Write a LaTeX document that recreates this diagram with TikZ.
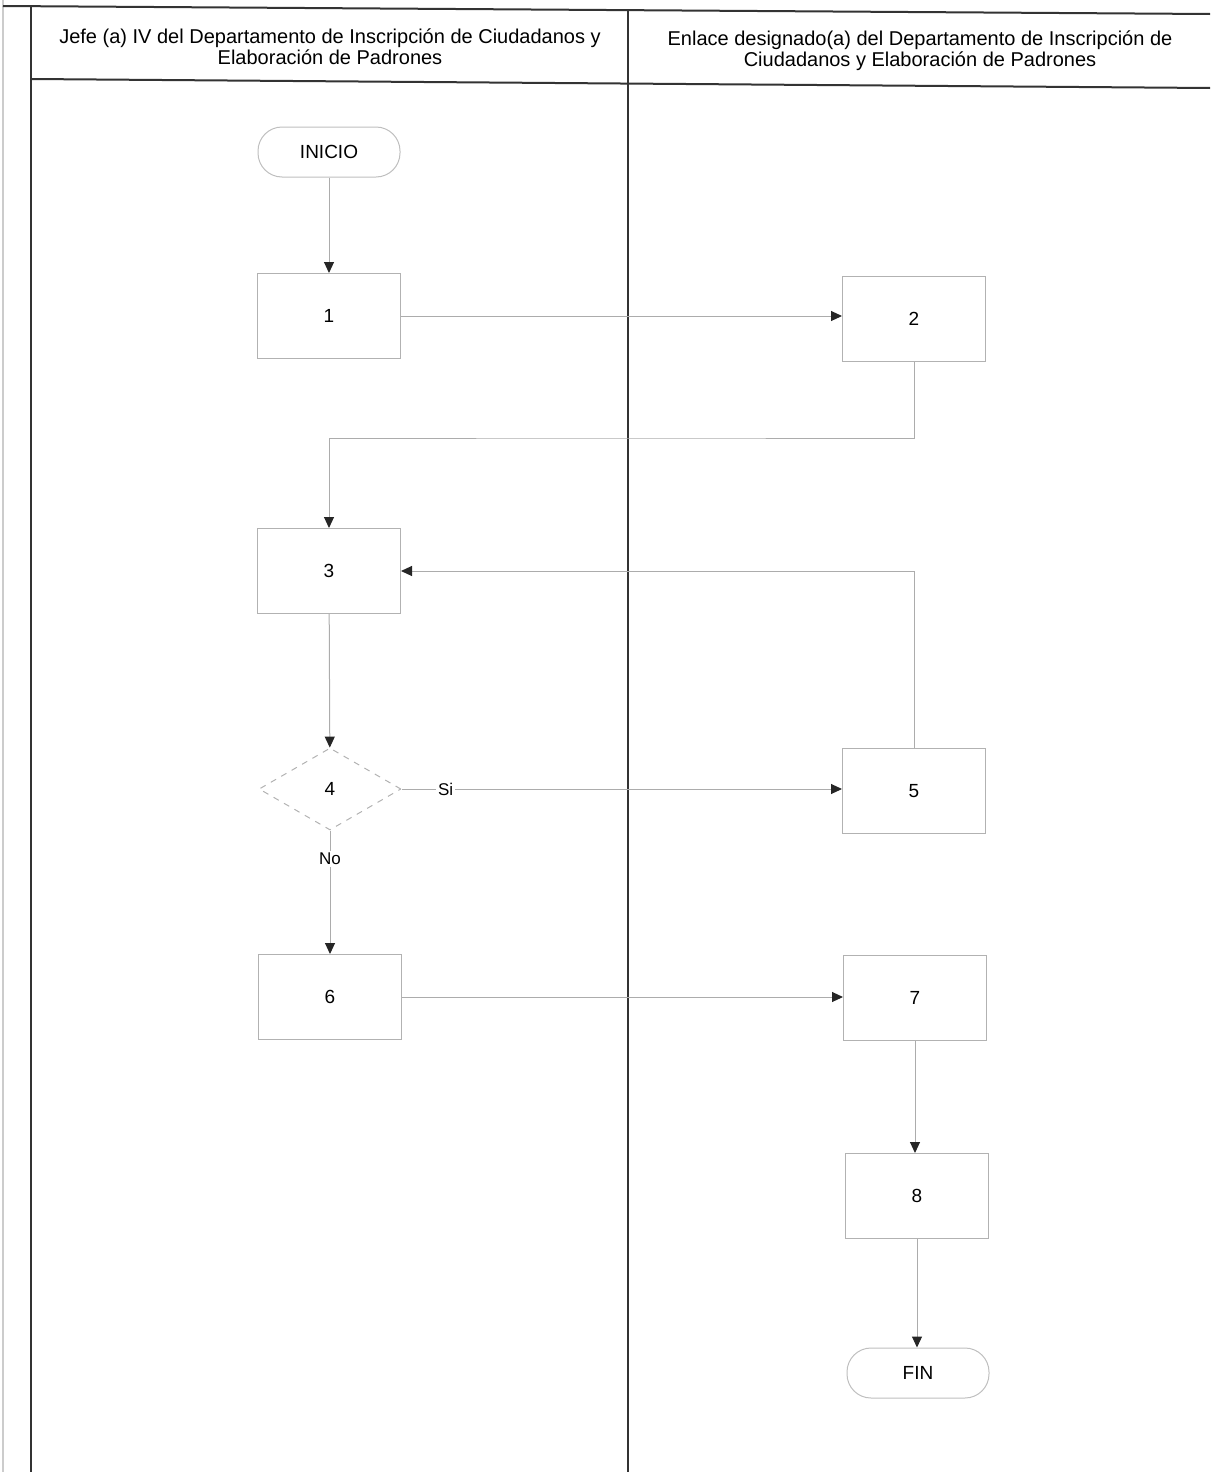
\documentclass[tikz,border=0pt]{standalone}
\usepackage{fontspec}
\setmainfont{Liberation Sans}
\usetikzlibrary{arrows.meta,shapes.geometric}
\begin{document}
\begin{tikzpicture}[x=0.5pt,y=-0.5pt,
  frame/.style={draw=black!80,line width=1pt},
  stepbox/.style={draw=gray!60,line width=0.5pt,minimum width=71.5pt,minimum height=42.5pt,inner sep=0pt,font=\fontsize{9.5}{11}\selectfont},
  term/.style={draw=gray!50,line width=0.5pt,rounded corners=12pt,minimum width=71pt,minimum height=25pt,inner sep=0pt,font=\fontsize{9.5}{11}\selectfont},
  decis/.style={diamond,draw=gray!60,dashed,line width=0.5pt,minimum width=71pt,minimum height=41pt,inner sep=0pt,font=\fontsize{9.5}{11}\selectfont},
  conn/.style={draw=gray!65,line width=0.5pt,-{Triangle[length=5.5pt,width=5pt,color=black!85]}},
  hdr/.style={align=center,font=\fontsize{10}{10.5}\selectfont},
  lbl/.style={fill=white,inner sep=1pt,font=\fontsize{8.5}{10}\selectfont}
]
\useasboundingbox (0,0) rectangle (1210,1472);
% frame
\draw[draw=gray!40,line width=0.8pt] (3,0) -- (3,1472);
\draw[frame] (3,6) -- (1210,14);
\draw[frame] (31,6) -- (31,1472);
\draw[frame] (628,9) -- (628,1472);
\draw[frame] (31,79) -- (1210,88);
% headers
\node[hdr] (h1) at (330,47) {Jefe (a) IV del Departamento de Inscripción de Ciudadanos y\\Elaboración de Padrones};
\node[hdr] (h2) at (920,51) {Enlace designado(a) del Departamento de Inscripción de\\Ciudadanos y Elaboración de Padrones};
% nodes
\node[term] (ini) at (329,152) {INICIO};
\node[stepbox] (b1) at (329,316) {1};
\node[stepbox] (b2) at (914,319) {2};
\node[stepbox] (b3) at (329,571) {3};
\node[decis] (d4) at (330,789) {4};
\node[stepbox] (b5) at (914,791) {5};
\node[stepbox] (b6) at (330,997) {6};
\node[stepbox] (b7) at (915,998) {7};
\node[stepbox] (b8) at (917,1196) {8};
\node[term] (fin) at (918,1373) {FIN};
\coordinate (k1) at (620,438);
% connectors
\draw[conn] (ini) -- (b1);
\draw[conn] (b1.east) -- (b2.west |- b1.east);
\draw[conn] (b2.south) |- (k1) -| (b3.north);
\draw[conn] (b3) -- (d4);
\draw[conn] (b5.north) |- (b3.east);
\draw[conn] (d4.east) -- node[lbl,pos=0.1] (si) {Si} (b5.west |- d4.east);
\draw[conn] (d4.south) -- node[lbl,pos=0.23] (no) {No} (b6.north);
\draw[conn] (b6.east) -- (b7.west |- b6.east);
\draw[conn] (b7.south) -- (b8.north -| b7.south);
\draw[conn] (b8.south) -- (fin.north -| b8.south);
\end{tikzpicture}
\end{document}
